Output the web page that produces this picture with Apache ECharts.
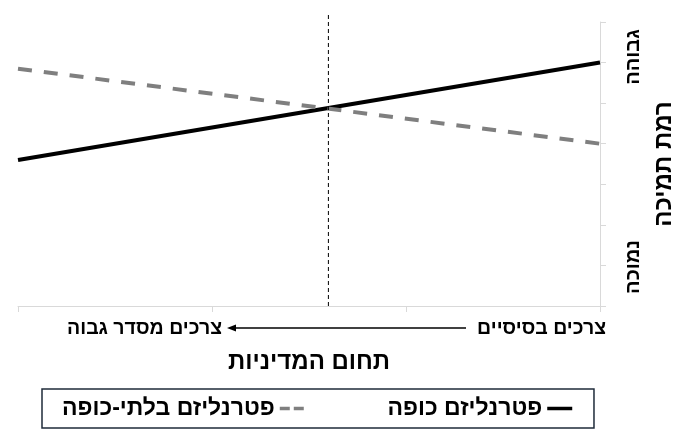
<!DOCTYPE html>
<html>
<head>
<meta charset="utf-8">
<script src="https://cdn.jsdelivr.net/npm/echarts@6/dist/echarts.min.js"></script>
<style>
  html, body { margin: 0; padding: 0; background: #fff; }
  #main { width: 693px; height: 437px; }
</style>
</head>
<body>
<div id="main"></div>
<script>
var chart = echarts.init(document.getElementById('main'));

// נתונים
var seriesNames = ['פטרנליזם כופה', 'פטרנליזם בלתי-כופה'];
var xPositions = [0, 3];
var coerciveValues = [3.6, 6.0];
var nonCoerciveValues = [5.85, 4.0];
var dividerX = 1.6;
var dividerSpan = [0, 7.2];
var yEndLabels = ['גבוהה', 'נמוכה'];
var xEndLabels = ['צרכים בסיסיים', 'צרכים מסדר גבוה'];

var font = '"Liberation Sans", Arial, sans-serif';

function pairs(xs, ys) {
    var out = [];
    for (var i = 0; i < xs.length; i++) {
        out.push([xs[i], ys[i]]);
    }
    return out;
}

function label(text, x, y, align, rotate) {
    return {
        type: 'text',
        x: x, y: y,
        rotation: rotate ? Math.PI / 2 : 0,
        style: {
            text: text,
            fontFamily: font,
            fontSize: rotate ? 20 : 19.5,
            fontWeight: 'bold',
            fill: '#000',
            align: align,
            verticalAlign: 'middle'
        }
    };
}

var option = {
    animation: false,
    backgroundColor: '#fff',
    textStyle: { fontFamily: font },
    grid: { left: 18, right: 93, top: 22, bottom: 131 },
    xAxis: {
        type: 'value',
        min: 0,
        max: 3,
        interval: 1,
        name: 'תחום המדיניות',
        nameLocation: 'middle',
        nameGap: 44,
        nameTextStyle: { fontSize: 24, fontWeight: 'bold', color: '#000', fontFamily: font },
        axisLine: { show: true, onZero: false, lineStyle: { color: '#d9d9d9', width: 1 } },
        axisTick: { show: true, length: 6, lineStyle: { color: '#d9d9d9' } },
        axisLabel: { show: false },
        splitLine: { show: false }
    },
    yAxis: {
        type: 'value',
        position: 'right',
        min: 0,
        max: 7,
        interval: 1,
        name: 'רמת תמיכה',
        nameLocation: 'middle',
        nameRotate: 90,
        nameGap: 52,
        nameTextStyle: { fontSize: 24, fontWeight: 'bold', color: '#000', fontFamily: font },
        axisLine: { show: true, onZero: false, lineStyle: { color: '#d9d9d9', width: 1 } },
        axisTick: { show: true, length: 6, lineStyle: { color: '#d9d9d9' } },
        axisLabel: { show: false },
        splitLine: { show: false }
    },
    legend: {
        data: [
            { name: seriesNames[1], lineStyle: { type: [10, 4], width: 3.5 } },
            { name: seriesNames[0], lineStyle: { width: 3.5 } }
        ],
        left: 42,
        top: 389,
        align: 'right',
        itemWidth: 25,
        itemHeight: 10,
        itemGap: 81,
        padding: [8, 20, 8, 20],
        borderColor: '#1f2b3a',
        borderWidth: 1.5,
        itemStyle: { opacity: 0 },
        textStyle: { fontSize: 23, fontWeight: 'bold', color: '#000', fontFamily: font }
    },
    graphic: [
        label(yEndLabels[0], 633, 57, 'center', true),
        label(yEndLabels[1], 633, 267, 'center', true),
        label(xEndLabels[0], 606, 329, 'right', false),
        label(xEndLabels[1], 222, 329, 'right', false),
        // חץ
        {
            type: 'line',
            shape: { x1: 466, y1: 328, x2: 234, y2: 328 },
            style: { stroke: '#000', lineWidth: 1.5 }
        },
        {
            type: 'polygon',
            shape: { points: [[227, 328], [236, 324.5], [236, 331.5]] },
            style: { fill: '#000' }
        }
    ],
    series: [
        {
            name: seriesNames[0],
            type: 'line',
            data: pairs(xPositions, coerciveValues),
            symbol: 'none',
            lineStyle: { color: '#000', width: 4, type: 'solid' },
            itemStyle: { color: '#000' }
        },
        {
            name: seriesNames[1],
            type: 'line',
            data: pairs(xPositions, nonCoerciveValues),
            symbol: 'none',
            lineStyle: { color: '#7f7f7f', width: 4, type: [14, 12] },
            itemStyle: { color: '#7f7f7f' }
        },
        {
            name: 'divider',
            type: 'line',
            data: [[dividerX, dividerSpan[0]], [dividerX, dividerSpan[1]]],
            symbol: 'none',
            clip: false,
            silent: true,
            lineStyle: { color: '#000', width: 1, type: [4, 3] }
        }
    ]
};

chart.setOption(option);
</script>
</body>
</html>
